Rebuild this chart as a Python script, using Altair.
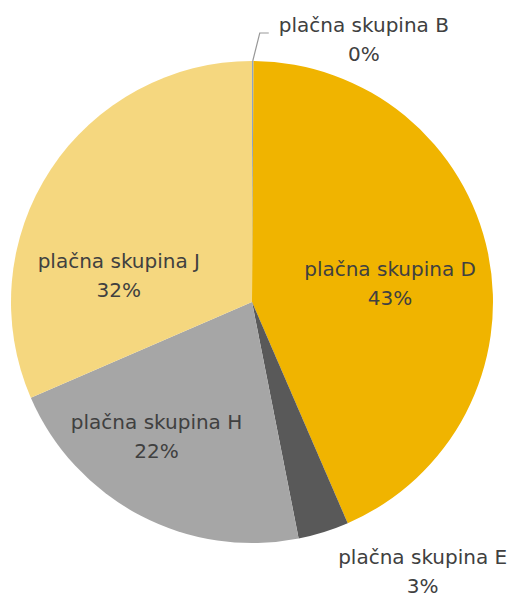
import math
import altair as alt
import pandas as pd

# ---- data ----
categories = ["plačna skupina B", "plačna skupina D", "plačna skupina E",
              "plačna skupina H", "plačna skupina J"]
values = [0.1, 43.4, 3.4, 21.6, 31.5]
colors = ["#8EA5C6", "#F0B400", "#595959", "#A6A6A6", "#F5D77F"]

# ---- layout / style ----
W, H = 488, 588
R = 241
R_IN = 145
R_OUT = 275
FONT = "DejaVu Sans"
FS = 20
LH = 29
TEXT_COLOR = "#404040"
# label placement: (radius, dx, dy)
label_layout = {
    "plačna skupina B": (R_OUT, 111, -1),
    "plačna skupina D": (R_IN, -4, -3),
    "plačna skupina E": (R_OUT, 89, -7),
    "plačna skupina H": (R_IN, -28, -7),
    "plačna skupina J": (R_IN, -12, 40),
}

total = sum(values)
rows = []
acc = 0.0
for c, v in zip(categories, values):
    pct = v / total * 100
    rows.append({
        "cat": c,
        "value": v,
        "start": acc,
        "end": acc + pct,
        "mid": acc + pct / 2,
        "label": f"{c}\n{pct:.0f}%",
    })
    acc += pct
df = pd.DataFrame(rows)

theta_scale = alt.Scale(domain=[0, 100], range=[0, 2 * math.pi])
color_scale = alt.Scale(domain=categories, range=colors)

arcs = alt.Chart(df).mark_arc(radius=R, stroke=None).encode(
    theta=alt.Theta("start:Q", scale=theta_scale, stack=None),
    theta2="end:Q",
    color=alt.Color("cat:N", scale=color_scale, legend=None),
)

layers = [arcs]
for c in categories:
    r, dx, dy = label_layout[c]
    layers.append(
        alt.Chart(df).transform_filter(alt.datum.cat == c).mark_text(
            radius=r, dx=dx, dy=dy, font=FONT, fontSize=FS, lineHeight=LH,
            lineBreak="\n", color=TEXT_COLOR, align="center", baseline="middle",
        ).encode(
            theta=alt.Theta("mid:Q", scale=theta_scale, stack=None),
            text="label:N",
        )
    )

# leader line for the tiny slice B (relative to pie centre, y upwards)
b = df.iloc[0]
ang = b["mid"] / 100 * 2 * math.pi
p0 = (R * math.sin(ang), R * math.cos(ang))
p1 = (p0[0] + 7, p0[1] + 28)
p2 = (p1[0] + 9, p1[1])
leader = pd.DataFrame({"x": [p0[0], p1[0], p2[0]], "y": [p0[1], p1[1], p2[1]],
                       "o": [0, 1, 2]})
leader_chart = alt.Chart(leader).mark_line(color="#999999", strokeWidth=1.2).encode(
    x=alt.X("x:Q", scale=alt.Scale(domain=[-W / 2, W / 2]), axis=None),
    y=alt.Y("y:Q", scale=alt.Scale(domain=[-H / 2, H / 2]), axis=None),
    order="o:Q",
)
layers.append(leader_chart)

chart = alt.layer(*layers).properties(
    width=W, height=H,
    autosize=alt.AutoSizeParams(type="none"),
    padding={"left": 0, "top": 0, "right": 14, "bottom": 3},
    background="white",
).configure_view(stroke=None)

chart.save("out.html", embed_options={"renderer": "svg", "actions": False})
